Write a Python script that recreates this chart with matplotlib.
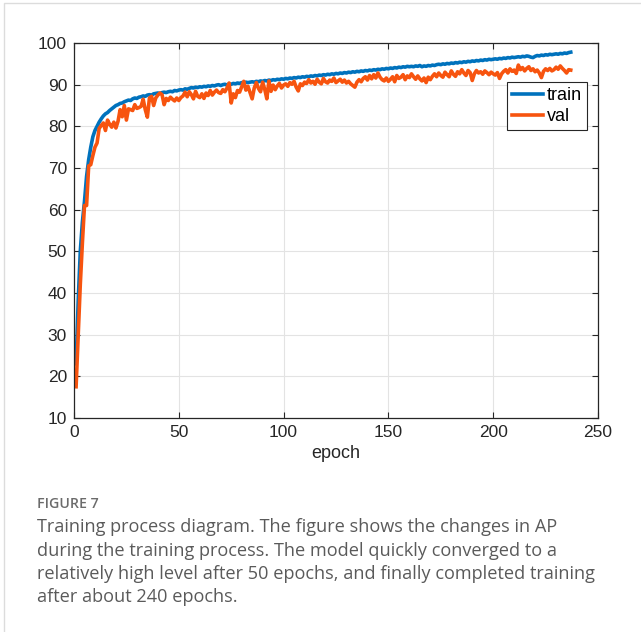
import numpy as np
import matplotlib.pyplot as plt
from matplotlib.patches import Rectangle

# AP per epoch
train_ap = [
    23, 38, 50, 57, 62, 68, 72, 75, 77.5, 79,
    80, 81, 81.8, 82.5, 83, 83.3, 83.8, 84.2, 84.6, 85,
    85.2, 85.5, 85.6, 85.9, 86.1, 86.3, 86.2, 86.6, 86.8, 86.7,
    87, 87.1, 87.3, 87.2, 87.5, 87.6, 87.5, 87.8, 87.9, 88,
    87.9, 88.1, 88.2, 88.1, 88.3, 88.4, 88.3, 88.6, 88.5, 88.7,
    88.8, 88.7, 89, 88.9, 89.1, 89.3, 89.2, 89.4, 89.3, 89.5,
    89.4, 89.6, 89.5, 89.7, 89.6, 89.8, 89.7, 89.9, 90, 89.8,
    90, 90.1, 89.9, 90.2, 90.1, 90.3, 90.2, 90.4, 90.3, 90.5,
    90.4, 90.6, 90.5, 90.6, 90.7, 90.6, 90.8, 90.7, 90.9, 90.8,
    91, 90.9, 91.1, 91, 91.2, 91.1, 91.3, 91.2, 91.4, 91.3,
    91.5, 91.4, 91.6, 91.5, 91.7, 91.6, 91.8, 91.7, 91.9, 91.8,
    92, 91.9, 92.1, 92, 92.2, 92.1, 92.3, 92.2, 92.4, 92.3,
    92.5, 92.4, 92.6, 92.5, 92.7, 92.6, 92.8, 92.7, 92.9, 92.8,
    93, 92.9, 93.1, 93, 93.2, 93.1, 93.3, 93.2, 93.4, 93.3,
    93.5, 93.4, 93.6, 93.5, 93.7, 93.6, 93.8, 93.7, 93.9, 93.8,
    94, 93.9, 94.1, 94, 94.2, 94.1, 94.3, 94.2, 94.4, 94.3,
    94.4, 94.3, 94.5, 94.4, 94.6, 94.3, 94.5, 94.4, 94.6, 94.5,
    94.7, 94.6, 94.8, 94.9, 94.8, 95, 94.9, 95.1, 95, 95.2,
    95.1, 95.3, 95.2, 95.4, 95.3, 95.5, 95.4, 95.6, 95.5, 95.7,
    95.6, 95.8, 95.7, 95.9, 95.8, 96, 95.9, 96.1, 96, 96.1,
    96.2, 96.1, 96.3, 96.2, 96.4, 96.3, 96.5, 96.4, 96.6, 96.5,
    96.6, 96.7, 96.6, 96.8, 96.7, 96.9, 96.8, 96.6, 96.5, 96.8,
    97, 96.9, 97.1, 97, 97.2, 97.1, 97.3, 97.2, 97.3, 97.4,
    97.3, 97.5, 97.4, 97.6, 97.5, 97.7, 97.8,
]

val_ap = [
    17.5, 30, 42, 52, 61, 61, 70.5, 70.8, 73, 75,
    76, 79.5, 80.2, 80.8, 79, 81.5, 80.5, 79.8, 81, 79.6,
    81.2, 84, 82.3, 85, 81.5, 84.2, 84, 83.8, 85.2, 84.3,
    84.5, 84.8, 86.5, 84, 82.2, 86.8, 87.2, 85, 86.8, 87.5,
    88, 87.6, 85.2, 86.7, 86.2, 87, 86.5, 86.1, 86.8, 86.2,
    86.9, 87.3, 88.2, 87.1, 88.3, 87.6, 86.6, 88.4, 87.2, 86.9,
    87.8, 86.7, 88, 87.4, 88.6, 87.5, 88.2, 88.7, 88.1, 87.9,
    88.8, 88.3, 89.2, 90.4, 85.6, 87.8, 86.9, 88.6, 88.2, 89.5,
    90.8, 88.7, 89.6, 88.1, 86.6, 89.2, 90.5, 89.1, 88.3, 90.6,
    88.9, 86.6, 90.9, 88.4, 89.9, 88.8, 89.7, 90.3, 89.2, 89.9,
    90.2, 89.6, 90.5, 90.1, 90.8, 89.4, 88.5, 90.2, 89.8, 90.6,
    90.3, 91.2, 90.4, 90.8, 90.1, 91.3, 90.6, 90.2, 91.5, 90.7,
    90.4, 91.1, 90.8, 91.6, 90.5, 90.9, 91.3, 90.6, 91.1, 90.4,
    90.8, 90.2, 89.8, 89.4, 90.6, 91.2, 90.7, 91.5, 91.9, 91.1,
    92.2, 91.4, 92.4, 91.6, 92.8, 91.8, 91.2, 90.9, 91.6, 90.8,
    91.3, 91.9, 90.7, 92.2, 91.5, 91.8, 92.4, 91.2, 92.1, 91.7,
    92.6, 91.9, 91.3, 92.1, 91.4, 90.9, 91.6, 90.5, 91.8, 91.2,
    92, 92.6, 91.9, 92.8, 92.2, 91.8, 93, 92.4, 91.9, 93.3,
    92.5, 92, 93.1, 92.6, 93.6, 92.8, 92.2, 93.4, 92.9, 91,
    92.6, 93.4, 92.8, 93.1, 92.5, 93.3, 92.9, 92.4, 93, 92.6,
    92.3, 92.9, 91.5, 92.6, 93.2, 93.6, 92.8, 93.8, 93.2, 93.5,
    92.7, 94.7, 93.6, 94.1, 93.3, 93.9, 94.3, 93.4, 93.8, 93.1,
    93.5, 92.8, 91.7, 93.2, 93.8, 93.4, 93.9, 93.3, 93.6, 94.2,
    93.7, 94.5, 93.9, 93.4, 92.8, 93.6, 93.5,
]

epochs = np.arange(1, len(train_ap) + 1)

caption_title = "FIGURE 7"
caption_lines = [
    "Training process diagram. The figure shows the changes in AP",
    "during the training process. The model quickly converged to a",
    "relatively high level after 50 epochs, and finally completed training",
    "after about 240 epochs.",
]

plt.rcParams['font.family'] = ['Liberation Sans', 'DejaVu Sans']

W, H = 641, 632
fig = plt.figure(figsize=(W / 100, H / 100), dpi=100)

# light frame around the figure panel
fig.patches.append(Rectangle((4 / W, -0.05), 1.1, 1 - 3 / H + 0.05,
                             transform=fig.transFigure, fill=False,
                             edgecolor='#dcdcdc', lw=1))

ax = fig.add_axes([74 / W, 1 - 418 / H, 524 / W, 375 / H])
ax.plot(epochs, train_ap, color='#0072BD', lw=2.6, label='train')
ax.plot(epochs, val_ap, color='#F7540F', lw=2.6, label='val')

ax.set_xlim(0, 250)
ax.set_ylim(10, 100)
ax.set_xticks(range(0, 251, 50))
ax.set_yticks(range(10, 101, 10))
ax.grid(True, color='#e3e3e3', lw=0.8)
ax.set_axisbelow(True)
ax.tick_params(direction='in', top=True, right=True, length=4, width=0.8,
               labelsize=12.5, colors='#262626', pad=5)
for s in ax.spines.values():
    s.set_color('#262626')
    s.set_linewidth(0.9)
ax.set_xlabel('epoch', fontsize=13, color='#262626', labelpad=4)

leg = ax.legend(loc='upper right', bbox_to_anchor=(0.979, 0.896),
                fontsize=13, fancybox=False, framealpha=1,
                edgecolor='#262626', handlelength=1.7, handletextpad=0.2,
                borderpad=0.3, labelspacing=0.2, borderaxespad=0)
leg.get_frame().set_linewidth(0.8)

fig.text(37 / W, 1 - 504 / H, caption_title, fontsize=10.2, color='#6b6b6b',
         family='Open Sans', weight='semibold', va='center')
for i, line in enumerate(caption_lines):
    fig.text(37 / W, 1 - (527 + i * 23.5) / H, line, fontsize=13.1,
             color='#5a5a5a', family='Open Sans', va='center')

fig.savefig('out.png', dpi=100)
